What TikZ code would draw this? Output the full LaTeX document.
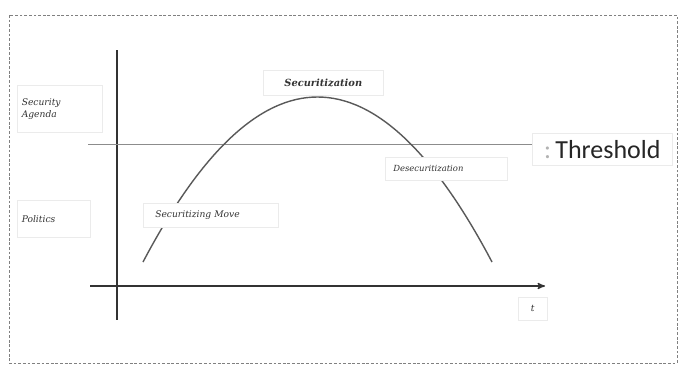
\documentclass[tikz,border=0pt]{standalone}
\usepackage{fontspec}
\newfontfamily\labelfont{DejaVu Serif}
\newfontfamily\threshfont{Carlito}
\usetikzlibrary{arrows}

\begin{document}
\begin{tikzpicture}[x=0.025cm,y=-0.025cm,>=stealth',
    axis/.style={black!80,line width=0.9pt},
    lbl/.style={draw=black!8,fill=white,inner sep=0pt,anchor=north west,
      font=\labelfont\itshape\fontsize{6.5}{8.5}\selectfont,text=black!80}]

  \useasboundingbox (0,0) rectangle (681,369);
  \draw[black!50,line width=0.6pt,dash pattern=on 2pt off 1.3pt]
    (9,15) rectangle (677,363);

  % axes
  \coordinate (ytop) at (117,50);
  \coordinate (ybot) at (117,320);
  \coordinate (xleft) at (90,286);
  \coordinate (xright) at (545,286);
  \draw[axis] (ytop) -- (ybot);
  \draw[axis,->] (xleft) -- (xright);

  % threshold and curve
  \coordinate (thl) at (88,144);
  \coordinate (thr) at (533,144);
  \draw[black!45,line width=0.4pt] (thl) -- (thr);
  \coordinate (start) at (143,262);
  \coordinate (stop) at (492,262);
  \draw[black!65,line width=1pt] (start) .. controls (259,42) and (376,42) .. (stop);

  % labels
  \node[lbl,minimum width=2.125cm,minimum height=1.175cm,text width=1.9cm,align=left]
    (agenda) at (17,85) {Security\\Agenda};
  \node[lbl,minimum width=1.825cm,minimum height=0.925cm,text width=1.6cm,align=left]
    (politics) at (17,200) {Politics};
  \node[lbl,minimum width=3cm,minimum height=0.625cm,font=\labelfont\bfseries\itshape\fontsize{7}{9}\selectfont]
    (secu) at (263,70) {Securitization};
  \node[lbl,minimum width=3.375cm,minimum height=0.6cm,text width=2.775cm,align=left]
    (move) at (143,203) {Securitizing Move};
  \node[lbl,minimum width=3.05cm,minimum height=0.575cm,text width=2.65cm,align=left,
    font=\labelfont\itshape\fontsize{6}{8}\selectfont]
    (desecu) at (385,157) {Desecuritization};
  \node[lbl,minimum width=0.725cm,minimum height=0.575cm] (t) at (518,297) {t};
  \node[lbl,minimum width=3.5cm,minimum height=0.8cm,font=\threshfont\fontsize{18.5}{20}\selectfont,text=black!85]
    (thresh) at (532,133) {{\color{black!30}:}\,Threshold};

\end{tikzpicture}
\end{document}
